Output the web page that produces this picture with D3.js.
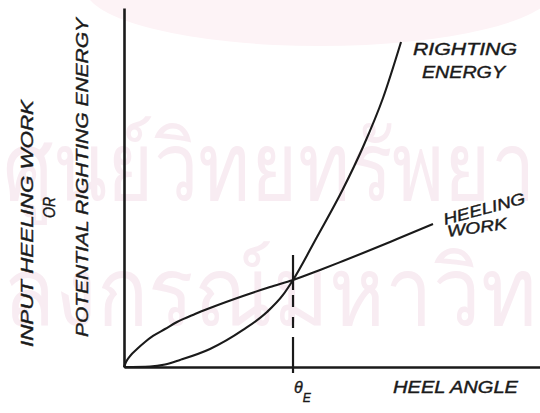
<!DOCTYPE html>
<html>
<head>
<meta charset="utf-8">
<script src="https://cdn.jsdelivr.net/npm/d3@7"></script>
<style>
  html, body { margin: 0; padding: 0; background: #fff; }
  svg { display: block; }
  .lbl { font-family: "Liberation Sans", "DejaVu Sans", sans-serif; font-style: italic; font-size: 16px; fill: #1a1a1a; stroke: #1a1a1a; stroke-width: 0.4px; }
  .lbl.v { font-size: 17px; }
</style>
</head>
<body>
<svg id="chart" width="540" height="413"></svg>
<script>
// ---- data (abstract units: heel angle 0..100, energy 0..100) ----
const rightingX = [0, 6.25, 9.86, 13.46, 20.67, 28.61, 34.38, 38.22, 40.63, 46.39, 52.64, 57.45, 62.26, 66.59];
const rightingY = [0, 0.14, 0.70, 1.95, 5.01, 10.31, 15.32, 20.06, 24.23, 36.21, 49.58, 61.28, 74.93, 90.53];
const heelingX = [0, 0.48, 1.44, 3.13, 5.05, 6.97, 9.86, 12.74, 17.07, 20.67, 28.61, 35.10, 40.63, 47.12, 52.64, 57.45, 65.63, 74.28];
const heelingY = [0, 1.39, 3.06, 5.01, 6.96, 8.64, 10.58, 12.53, 14.76, 16.43, 19.78, 22.28, 24.23, 27.02, 29.53, 31.75, 35.65, 39.83];
const thetaE = 40.63;
const equilibriumY = 24.23;
const xDomain = [0, 100];
const yDomain = [0, 100];
const watermarkLines = ["ศูนย์วิทยทรัพยา", "ลงกรณ์มหาวิท"];

const svg = d3.select("#chart");
const x = d3.scaleLinear().domain(xDomain).range([124, 540]);
const y = d3.scaleLinear().domain(yDomain).range([367, 8]);

// faint watermark
svg.append("ellipse").attr("cx", 320).attr("cy", -12).attr("rx", 235).attr("ry", 58).attr("fill", "#fdf3f6");
const wm = svg.append("g").attr("fill", "#f8ecf2").attr("font-family", "sans-serif");
[[watermarkLines[0], 200], [watermarkLines[1], 325]].forEach(([t, base]) => {
  const el = wm.append("text").attr("x", 0).attr("y", 0).attr("font-size", 96).text(t);
  const w = el.node().getComputedTextLength();
  const k = 532 / w;
  el.attr("transform", `translate(3,${base}) scale(${k},1)`);
});

// axes (no ticks)
svg.append("g").attr("transform", `translate(0,${y(0)})`)
  .call(d3.axisBottom(x).tickValues([]).tickSizeOuter(0))
  .select(".domain").attr("stroke", "#1a1a1a").attr("stroke-width", 2.6);
svg.append("g").attr("transform", `translate(${x(0)},0)`)
  .call(d3.axisLeft(y).tickValues([]).tickSizeOuter(0))
  .select(".domain").attr("stroke", "#1a1a1a").attr("stroke-width", 2.6);

// curves
const line = d3.line().x(d => x(d[0])).y(d => y(d[1])).curve(d3.curveMonotoneX);
svg.append("path").datum(rightingX.map((v, i) => [v, rightingY[i]]))
  .attr("d", line).attr("fill", "none").attr("stroke", "#1a1a1a").attr("stroke-width", 2.1);
svg.append("path").datum(heelingX.map((v, i) => [v, heelingY[i]]))
  .attr("d", line).attr("fill", "none").attr("stroke", "#1a1a1a").attr("stroke-width", 2.1);

// theta_E marker: solid above, dashed, solid near axis
svg.append("line")
  .attr("x1", x(thetaE)).attr("x2", x(thetaE))
  .attr("y1", y(equilibriumY) - 25).attr("y2", y(0) + 6)
  .attr("stroke", "#1a1a1a").attr("stroke-width", 2.2)
  .attr("stroke-dasharray", "35,5,12,10,11,9,60");

// labels
function lbl(txt, px, py, len, rot, cls) {
  const t = svg.append("text").attr("class", "lbl" + (cls ? " " + cls : "")).attr("x", px).attr("y", py)
    .attr("textLength", len).attr("lengthAdjust", "spacingAndGlyphs").text(txt);
  if (rot) t.attr("transform", `rotate(${rot},${px},${py})`);
  return t;
}
lbl("RIGHTING", 413, 55, 104);
lbl("ENERGY", 422, 78, 83);
lbl("HEELING", 445, 225, 84, -15);
lbl("WORK", 448, 237, 60, -8);
lbl("HEEL ANGLE", 393, 393, 125);
svg.append("text").attr("class", "lbl").attr("x", x(thetaE) + 1).attr("y", 393).text("θ")
  .append("tspan").attr("font-size", 12).attr("dy", 9).text("E");

// y-axis title (rotated)
lbl("INPUT HEELING WORK", 33, 347, 247, -90, "v");
lbl("OR", 55, 218, 21, -90, "v");
lbl("POTENTIAL RIGHTING ENERGY", 88, 337, 319, -90, "v");
</script>
</body>
</html>
